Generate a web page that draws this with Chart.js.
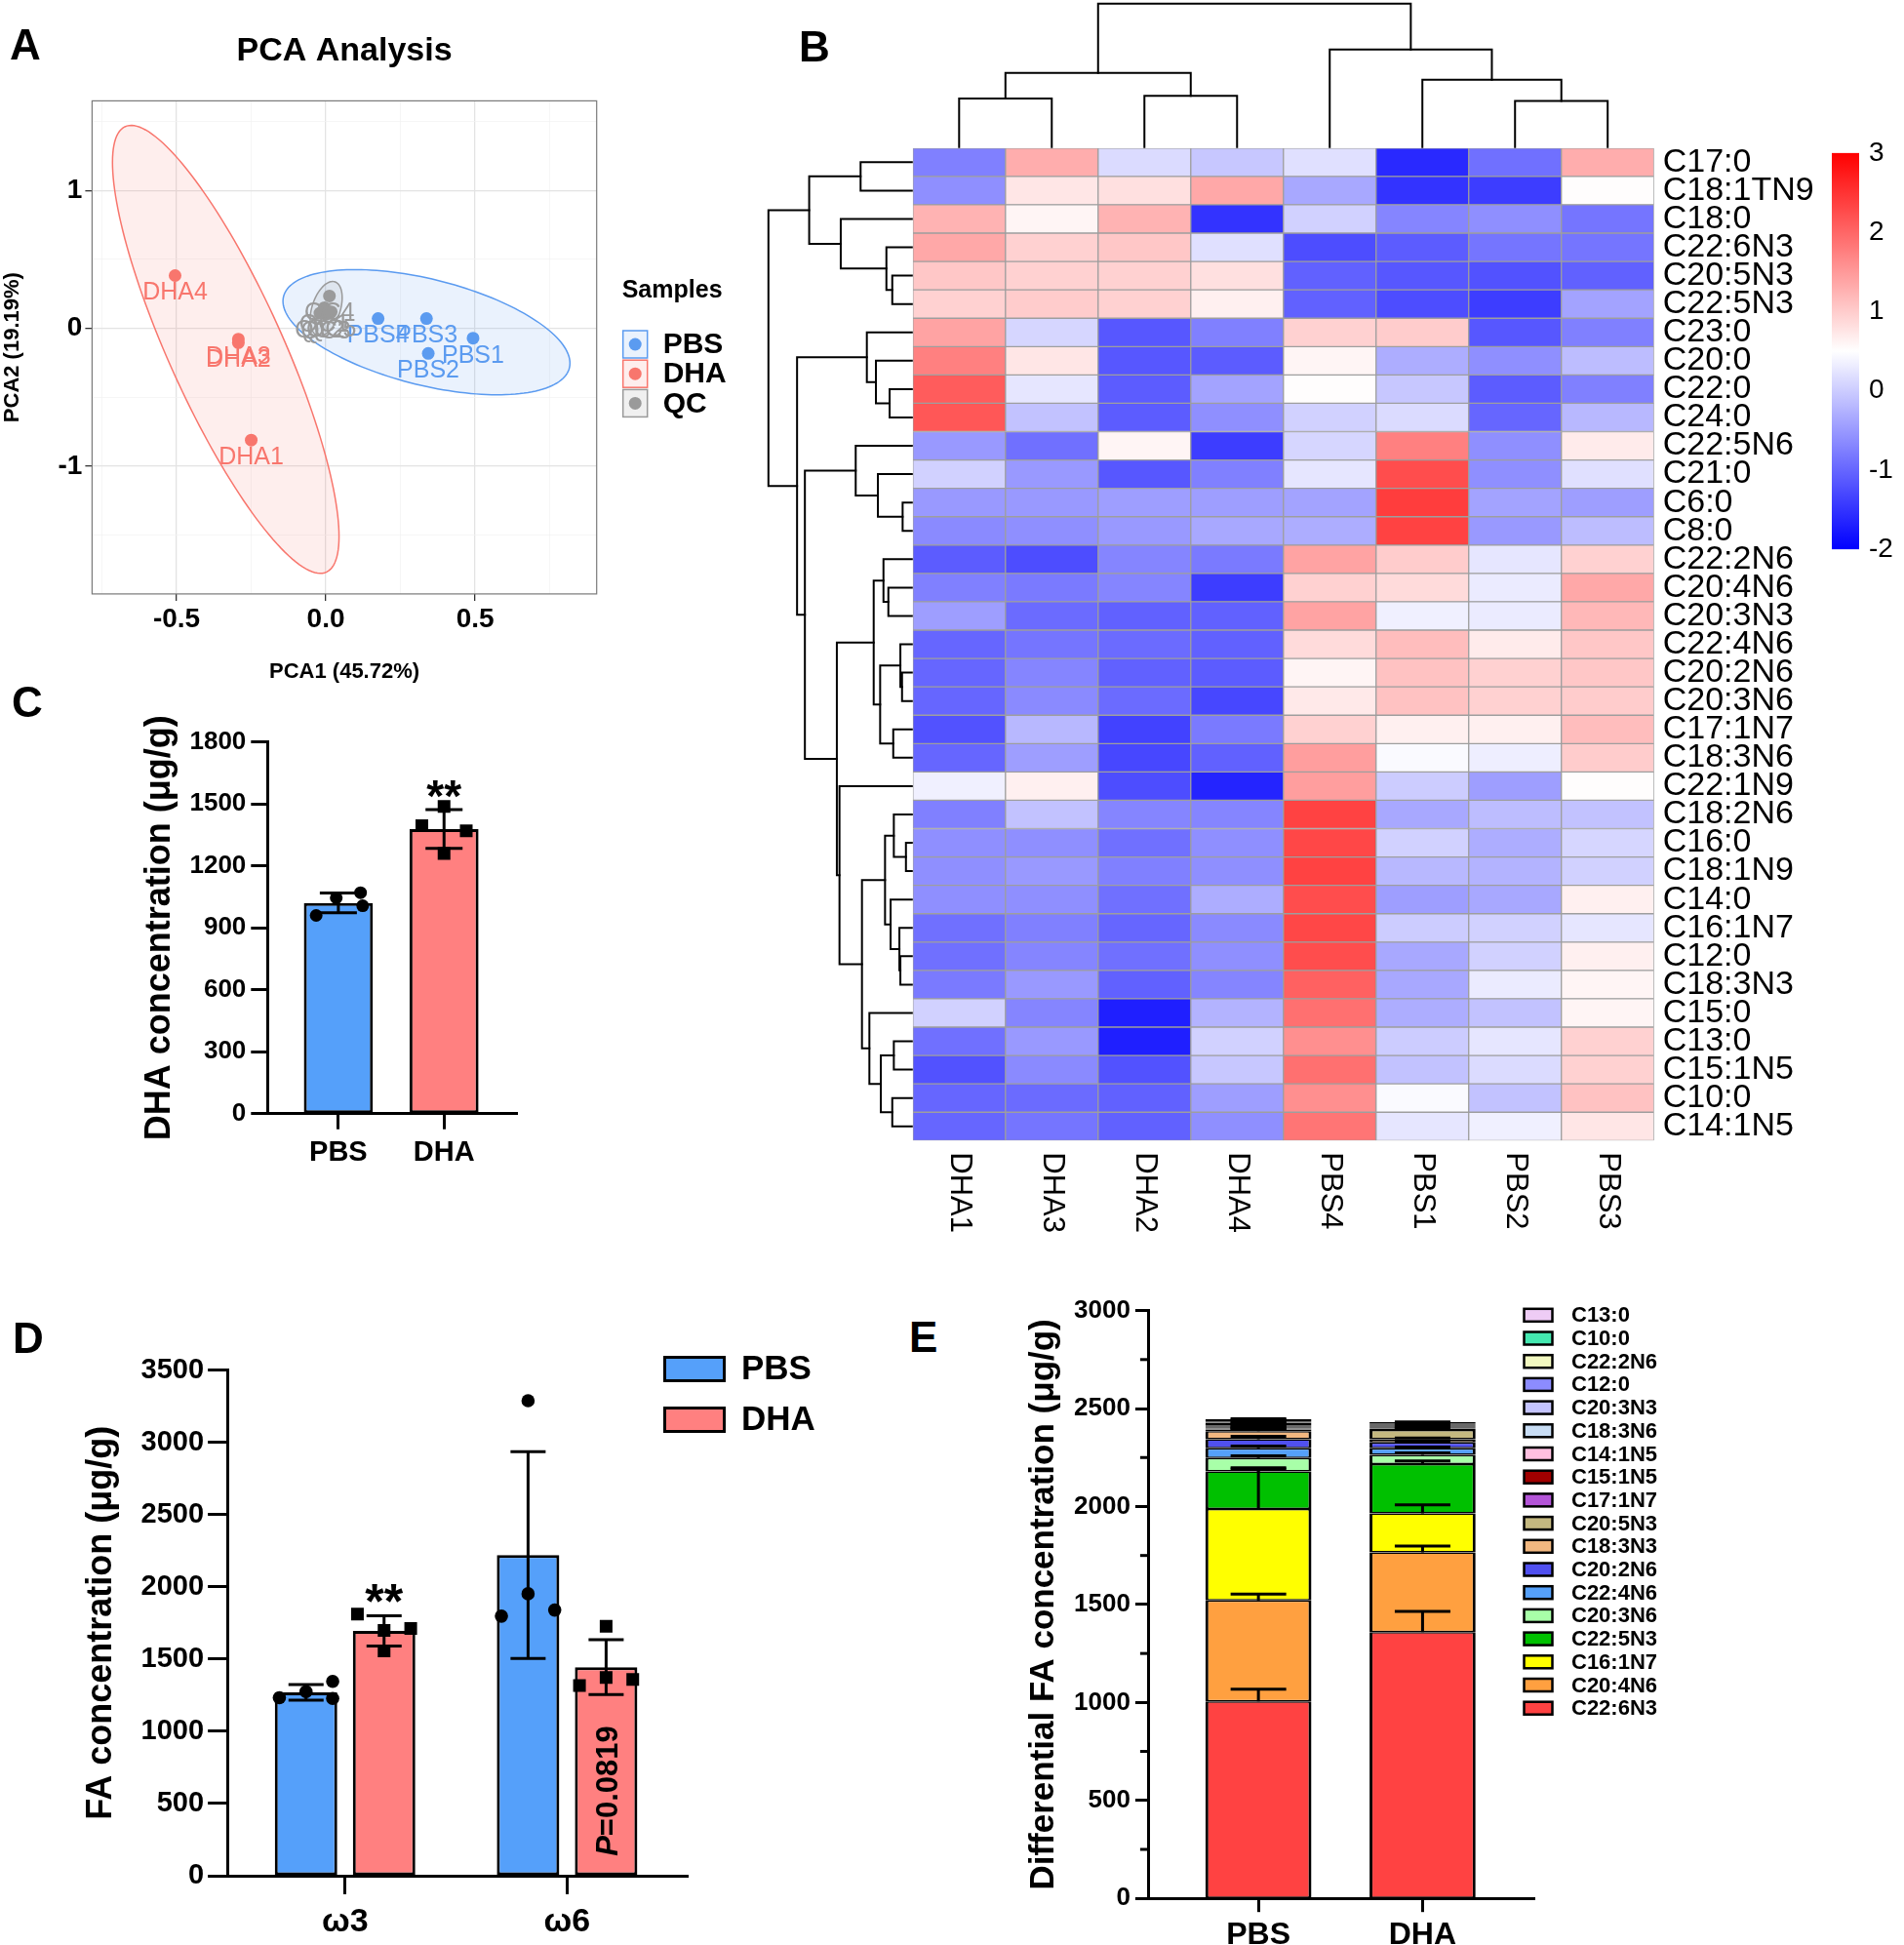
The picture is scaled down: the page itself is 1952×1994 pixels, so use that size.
<!DOCTYPE html>
<html><head><meta charset="utf-8"><title>Fatty acid figure</title>
<script src="https://cdn.jsdelivr.net/npm/chart.js@4.4.1/dist/chart.umd.min.js"></script>
<style>
html,body{margin:0;padding:0;background:#fff}
body{position:relative;width:1952px;height:1994px;overflow:hidden;font-family:'Liberation Sans',Arial,Helvetica,sans-serif}
canvas{position:absolute;display:block}
.pl{position:absolute;font-weight:bold;font-size:44px;line-height:1;color:#000}
</style></head>
<body>
<canvas id="chartA" width="780" height="720" style="left:0;top:0;width:780px;height:720px"></canvas>
<canvas id="chartB" width="1090" height="1290" style="left:770px;top:0;width:1090px;height:1290px"></canvas>
<canvas id="chartBar" width="92" height="460" style="left:1860px;top:130px;width:92px;height:460px"></canvas>
<canvas id="chartC" width="560" height="560" style="left:0;top:700px;width:560px;height:560px"></canvas>
<canvas id="chartD" width="860" height="654" style="left:0;top:1340px;width:860px;height:654px"></canvas>
<canvas id="chartE" width="952" height="674" style="left:1000px;top:1320px;width:952px;height:674px"></canvas>
<div class="pl" style="left:10px;top:24px">A</div>
<div class="pl" style="left:819px;top:26px">B</div>
<div class="pl" style="left:12px;top:698px">C</div>
<div class="pl" style="left:13px;top:1350px">D</div>
<div class="pl" style="left:932px;top:1349px">E</div>
<script>
const FONT = "'Liberation Sans', Arial, Helvetica, sans-serif";
Chart.defaults.font.family = FONT;
Chart.defaults.color = '#000';
Chart.defaults.animation = false;
Chart.defaults.plugins.legend.display = false;
Chart.defaults.plugins.tooltip.enabled = false;

/* ================= DATA ================= */
/* Panel A: PCA scores */
const pbsNames = ['PBS4', 'PBS3', 'PBS1', 'PBS2'];
const pbsPC1 = [0.175, 0.337, 0.493, 0.343];
const pbsPC2 = [0.071, 0.071, -0.071, -0.182];
const dhaNames = ['DHA4', 'DHA3', 'DHA2', 'DHA1'];
const dhaPC1 = [-0.505, -0.293, -0.293, -0.250];
const dhaPC2 = [0.383, -0.078, -0.104, -0.810];
const qcNames = ['QC1', 'QC2', 'QC3', 'QC4', 'QC5'];
const qcPC1 = [-0.005, -0.020, 0.000, 0.012, 0.018];
const qcPC2 = [0.150, 0.110, 0.100, 0.235, 0.120];
const pcaXTicks = [-0.5, 0.0, 0.5];
const pcaYTicks = [-1, 0, 1];

/* Panel B: heatmap z-scores, one array per sample column (rows in heatRows order) */
const heatSamples = ['DHA1', 'DHA3', 'DHA2', 'DHA4', 'PBS4', 'PBS1', 'PBS2', 'PBS3'];
const heatRows = ['C17:0','C18:1TN9','C18:0','C22:6N3','C20:5N3','C22:5N3','C23:0','C20:0','C22:0','C24:0','C22:5N6','C21:0','C6:0','C8:0','C22:2N6','C20:4N6','C20:3N3','C22:4N6','C20:2N6','C20:3N6','C17:1N7','C18:3N6','C22:1N9','C18:2N6','C16:0','C18:1N9','C14:0','C16:1N7','C12:0','C18:3N3','C15:0','C13:0','C15:1N5','C10:0','C14:1N5'];
const zDHA1 = [-0.75,-0.60,1.25,1.35,1.05,0.95,1.40,1.75,2.10,2.15,-0.50,0.05,-0.50,-0.65,-1.10,-0.75,-0.45,-1.00,-1.00,-1.00,-1.20,-1.00,0.35,-0.75,-0.60,-0.60,-0.60,-0.90,-0.90,-0.80,0.05,-0.90,-1.20,-1.00,-1.00];
const zDHA3 = [1.30,0.75,0.60,0.95,0.95,1.00,0.10,0.75,0.25,-0.10,-0.90,-0.50,-0.50,-0.60,-1.25,-0.80,-0.95,-0.85,-0.70,-0.65,-0.20,-0.45,0.65,-0.10,-0.60,-0.50,-0.60,-0.75,-0.70,-0.50,-0.70,-0.50,-0.65,-0.95,-0.85];
const zDHA2 = [0.15,0.80,1.25,1.05,0.95,0.95,-1.15,-1.15,-1.10,-1.10,0.60,-1.15,-0.45,-0.50,-0.70,-0.70,-1.05,-0.95,-1.05,-0.95,-1.35,-1.30,-1.25,-0.70,-0.90,-0.75,-0.90,-1.00,-0.90,-1.05,-1.70,-1.70,-1.20,-1.05,-1.05];
const zDHA4 = [-0.05,1.35,-1.50,0.20,0.80,0.65,-0.75,-1.10,-0.40,-0.60,-1.40,-0.75,-0.45,-0.35,-0.80,-1.40,-1.05,-1.05,-1.10,-1.30,-0.80,-1.05,-1.65,-0.70,-0.60,-0.60,-0.30,-0.65,-0.60,-0.70,-0.25,0.05,-0.05,-0.45,-0.60];
const zPBS4 = [0.20,-0.35,0.05,-1.25,-1.05,-1.05,0.95,0.60,0.52,0.05,0.10,0.25,-0.40,-0.30,1.40,0.95,1.40,0.85,0.60,0.72,0.95,1.45,1.45,2.35,2.30,2.35,2.25,2.30,2.25,2.05,1.90,1.60,1.90,1.60,1.85];
const zPBS1 = [-1.60,-1.50,-0.70,-1.10,-1.15,-1.25,1.00,-0.30,-0.05,0.15,1.75,2.25,2.40,2.35,1.00,0.85,0.35,1.15,1.10,1.10,0.65,0.45,0.00,-0.35,0.05,-0.20,-0.45,0.00,-0.35,-0.35,-0.30,0.00,-0.10,0.45,0.25];
const zPBS2 = [-0.90,-1.40,-0.60,-0.85,-1.20,-1.40,-1.15,-0.60,-1.10,-1.00,-0.60,-0.60,-0.40,-0.50,0.25,0.30,0.30,0.70,0.95,0.95,0.65,0.33,-0.45,-0.15,-0.30,-0.25,-0.35,0.05,0.05,0.30,-0.10,0.25,0.15,-0.10,0.35];
const zPBS3 = [1.30,0.52,-0.85,-0.85,-1.05,-0.40,-0.75,-0.15,-0.75,-0.20,0.70,0.20,-0.45,-0.15,0.95,1.35,1.20,1.05,1.05,1.00,1.15,1.00,0.52,-0.10,0.10,0.05,0.65,0.25,0.65,0.60,0.60,0.95,0.95,1.10,0.75];
const heatScaleTicks = [3, 2, 1, 0, -1, -2];
/* hierarchical clustering (hclust-style merge lists: negative = leaf, positive = earlier merge) */
const colMerge = [[-1,-2],[-3,-4],[-7,-8],[1,2],[-6,3],[-5,5],[4,6]];
const colHeight = [49.8, 52.6, 47.3, 75.9, 68.9, 100, 146.9];
const rowMerge = [[-25,-26],[-13,-14],[-19,-20],[-18,3],[-29,-30],[-28,5],[-24,1],[-32,-33],[-21,-22],[-5,-6],
  [-34,-35],[-27,6],[-9,-10],[-16,-17],[-4,10],[7,12],[-15,14],[8,11],[4,9],[-12,2],
  [-8,13],[17,19],[-31,18],[-7,21],[16,23],[-1,-2],[-11,20],[-3,15],[-23,25],[22,29],
  [26,28],[27,30],[24,32],[31,33]];
const rowHeight = [6,9.4,10,11.7,11.7,12.7,18.4,18.4,19,20,20,21.7,22.7,24,26,27.4,29,31.7,32.4,34.7,
  36.7,39,43.4,46,51,52.4,57.4,72.7,74,76.7,105,109.4,117.4,146.7];

/* Panel C: DHA concentration (µg/g), individual animals */
const cCats = ['PBS', 'DHA'];
const cPBS = [960, 1045, 1070, 1007];
const cDHA = [1395, 1488, 1370, 1260];
const cYTicks = [0, 300, 600, 900, 1200, 1500, 1800];
const cStars = ['', '**'];

/* Panel D: omega-3 / omega-6 FA concentration */
const dCats = ['ω3', 'ω6'];
const dPBSw3 = [1232, 1274, 1345, 1227];
const dPBSw6 = [3288, 1952, 1797, 1839];
const dDHAw3 = [1811, 1698, 1712, 1556];
const dDHAw6 = [1726, 1316, 1373, 1359];
const dYTicks = [0, 500, 1000, 1500, 2000, 2500, 3000, 3500];
const dStarsDHA = ['**', ''];
const dPLabel = ['P', '=0.0819'];

/* Panel E: stacked differential FA (bottom to top) */
const eCats = ['PBS', 'DHA'];
const eSeries = ['C22:6N3','C20:4N6','C16:1N7','C22:5N3','C20:3N6','C22:4N6','C20:2N6','C18:3N3','C20:5N3','C17:1N7','C15:1N5','C14:1N5','C18:3N6','C20:3N3','C12:0','C22:2N6','C10:0','C13:0'];
const ePBS   = [1005, 516, 466, 192, 68, 50, 46, 42, 8, 5, 4, 5, 7, 6, 8, 6, 7, 5];
const eDHA   = [1359, 407, 199, 252, 47, 33, 30, 16, 48, 4, 3, 4, 5, 5, 5, 5, 4, 4];
const ePBSsd = [63, 32, 211, 13, 12, 12, 15, 12, 3, 2, 2, 2, 3, 3, 3, 2, 3, 2];
const eDHAsd = [106, 32, 44, 16, 10, 6, 6, 6, 8, 2, 2, 2, 2, 2, 2, 2, 2, 2];
const eYTicks = [0, 500, 1000, 1500, 2000, 2500, 3000];

/* ================= STYLE ================= */
const COL_PBS = '#55A0FA', COL_DHA = '#FF8080';
const PCA_COL = {PBS:'#5B9BF0', DHA:'#F8766D', QC:'#9A9A9A'};
const PCA_FILL = {PBS:'rgba(91,155,240,0.13)', DHA:'rgba(248,118,109,0.12)', QC:'rgba(154,154,154,0.15)'};
const PCA_ELLIPSE_R = {PBS:3.7, DHA:3.3, QC:3.6};
const E_COLORS = ['#FF4242','#FFA040','#FFFF00','#00C000','#A8FFA8','#55A0FA','#5050F0','#F2B880','#C4B880','#B455D8','#A00000','#FFC0E0','#C8DDF5','#C4C4FF','#8C8CFF','#F2F8C0','#44E8B0','#EECCF5'];
const C_JIT = [[-0.21,-0.02,0.21,0.23],[-0.21,0,0.21,0]];
const D_JIT = {PBS:[[-0.12,0,0.12,0.12],[0,0,-0.12,0.12]], DHA:[[-0.12,0,0.12,0],[0,-0.12,0,0.12]]};
const D_CATPCT = 0.703, D_BARPCT = 0.8;

/* ================= HELPERS ================= */
const mean = a => a.reduce((s, v) => s + v, 0) / a.length;
const sdev = a => { const m = mean(a); return Math.sqrt(a.reduce((s, v) => s + (v - m) * (v - m), 0) / (a.length - 1)); };
const near = (arr, v) => arr.some(t => Math.abs(t - v) < 1e-6);
function heatColor(v) {
  const lo = Math.min(...heatScaleTicks), hi = Math.max(...heatScaleTicks), mid = (lo + hi) / 2;
  v = Math.max(lo, Math.min(hi, v));
  let r, g, b;
  if (v < mid) { const t = (v - lo) / (mid - lo); r = g = Math.round(255 * t); b = 255; }
  else { const t = (v - mid) / (hi - mid); r = 255; g = b = Math.round(255 * (1 - t)); }
  return `rgb(${r},${g},${b})`;
}
function ellipse(xs, ys, r, n) {
  const mx = mean(xs), my = mean(ys), N = xs.length;
  let sxx = 0, syy = 0, sxy = 0;
  for (let i = 0; i < N; i++) { const dx = xs[i] - mx, dy = ys[i] - my; sxx += dx * dx; syy += dy * dy; sxy += dx * dy; }
  sxx /= N - 1; syy /= N - 1; sxy /= N - 1;
  const a = Math.sqrt(sxx), b = sxy / a, c = Math.sqrt(Math.max(syy - b * b, 0));
  const pts = [];
  for (let k = 0; k <= n; k++) { const t = 2 * Math.PI * k / n; pts.push([mx + r * a * Math.cos(t), my + r * (b * Math.cos(t) + c * Math.sin(t))]); }
  return pts;
}
function drawTree(ctx, merge, height, leaf, map) {
  const pos = [], hh = [];
  const node = k => k < 0 ? [leaf(-k - 1), 0] : [pos[k - 1], hh[k - 1]];
  merge.forEach((m, i) => {
    const [pa, ha] = node(m[0]), [pb, hb] = node(m[1]), h = height[i];
    pos[i] = (pa + pb) / 2; hh[i] = h;
    ctx.beginPath();
    let q = map(pa, ha); ctx.moveTo(q[0], q[1]);
    q = map(pa, h); ctx.lineTo(q[0], q[1]);
    q = map(pb, h); ctx.lineTo(q[0], q[1]);
    q = map(pb, hb); ctx.lineTo(q[0], q[1]);
    ctx.stroke();
  });
}

/* ================= PANEL A ================= */
const pcaSets = [
  {group:'PBS', names:pbsNames, xs:pbsPC1, ys:pbsPC2},
  {group:'DHA', names:dhaNames, xs:dhaPC1, ys:dhaPC2},
  {group:'QC', names:qcNames, xs:qcPC1, ys:qcPC2}
];
const pcaPlugin = {
  id: 'pcaDecor',
  beforeDatasetsDraw(chart) {
    const {ctx, scales: {x, y}} = chart;
    ctx.save();
    pcaSets.forEach(s => {
      const pts = ellipse(s.xs, s.ys, PCA_ELLIPSE_R[s.group], 160);
      ctx.beginPath();
      pts.forEach((p, i) => { const px = x.getPixelForValue(p[0]), py = y.getPixelForValue(p[1]); i ? ctx.lineTo(px, py) : ctx.moveTo(px, py); });
      ctx.closePath();
      ctx.fillStyle = PCA_FILL[s.group]; ctx.fill();
      ctx.strokeStyle = PCA_COL[s.group]; ctx.lineWidth = 1.5; ctx.stroke();
    });
    ctx.restore();
  },
  afterDatasetsDraw(chart) {
    const {ctx, chartArea: a, scales: {x, y}} = chart;
    ctx.save();
    ctx.font = `25px ${FONT}`; ctx.textAlign = 'center'; ctx.textBaseline = 'middle';
    pcaSets.forEach(s => {
      ctx.fillStyle = PCA_COL[s.group];
      s.names.forEach((n, i) => ctx.fillText(n, x.getPixelForValue(s.xs[i]), y.getPixelForValue(s.ys[i]) + 18));
    });
    ctx.strokeStyle = '#7a7a7a'; ctx.lineWidth = 1.2;
    ctx.strokeRect(a.left, a.top, a.right - a.left, a.bottom - a.top);
    // legend
    const lx = a.right + 27;
    ctx.textAlign = 'left'; ctx.fillStyle = '#000';
    ctx.font = `bold 25px ${FONT}`; ctx.fillText('Samples', lx - 1, 298);
    ctx.font = `bold 30px ${FONT}`;
    pcaSets.forEach((s, i) => {
      const cy = 353 + i * 30.2;
      ctx.fillStyle = PCA_FILL[s.group]; ctx.fillRect(lx, cy - 14, 25, 28);
      ctx.strokeStyle = PCA_COL[s.group]; ctx.lineWidth = 1.5; ctx.strokeRect(lx, cy - 14, 25, 28);
      ctx.beginPath(); ctx.arc(lx + 12.5, cy, 6.5, 0, 2 * Math.PI); ctx.fillStyle = PCA_COL[s.group]; ctx.fill();
      ctx.fillStyle = '#000'; ctx.fillText(s.group, lx + 41, cy + 1);
    });
    ctx.restore();
  }
};
const gridMajor = (arr) => (c) => (c.tick && near(arr, c.tick.value)) ? '#E3E3E3' : '#F2F2F2';
const gridW = (arr) => (c) => (c.tick && near(arr, c.tick.value)) ? 1.3 : 0.7;
const tickCol = (arr) => (c) => (c.tick && near(arr, c.tick.value)) ? '#333' : 'rgba(0,0,0,0)';
const pcaMajorX = [-0.5, 0, 0.5], pcaMajorY = [-1, 0, 1];
new Chart(document.getElementById('chartA'), {
  type: 'scatter',
  data: { datasets: pcaSets.map(s => ({
    label: s.group,
    data: s.xs.map((v, i) => ({x: v, y: s.ys[i]})),
    pointRadius: 6.5, pointBackgroundColor: PCA_COL[s.group], pointBorderWidth: 0
  })) },
  options: {
    responsive: false, devicePixelRatio: 1,
    layout: {padding: {left: 0, right: 168.3, top: 0, bottom: 0}},
    plugins: { title: {display: true, text: 'PCA Analysis', fullSize: false, color: '#000',
      font: {size: 34, weight: 'bold'}, padding: {top: 32.6, bottom: 30}} },
    scales: {
      x: { type: 'linear', min: -0.783, max: 0.907,
        afterFit: s => { s.height = 111.1; },
        border: {display: false},
        grid: {color: gridMajor(pcaMajorX), lineWidth: gridW(pcaMajorX), tickColor: tickCol(pcaMajorX), tickLength: 7, tickWidth: 1.3},
        ticks: {stepSize: 0.25, includeBounds: false, autoSkip: false, maxRotation: 0, padding: 3, color: '#000',
          font: {size: 28, weight: 'bold'}, callback: v => near(pcaXTicks, v) ? v.toFixed(1) : ''},
        title: {display: true, text: 'PCA1 (45.72%)', color: '#000', font: {size: 22, weight: 'bold'}, padding: {top: 0, bottom: 18}} },
      y: { type: 'linear', min: -1.926, max: 1.65,
        afterFit: s => { s.width = 94.4; },
        border: {display: false},
        grid: {color: gridMajor(pcaMajorY), lineWidth: gridW(pcaMajorY), tickColor: tickCol(pcaMajorY), tickLength: 7, tickWidth: 1.3},
        ticks: {stepSize: 0.5, includeBounds: false, autoSkip: false, padding: 3, color: '#000',
          font: {size: 28, weight: 'bold'}, callback: v => near(pcaYTicks, v) ? String(Math.round(v)) : ''},
        title: {display: true, text: 'PCA2 (19.19%)', color: '#000', font: {size: 22, weight: 'bold'}, padding: {top: 0, bottom: 0}} }
    }
  },
  plugins: [pcaPlugin]
});

/* ================= PANEL B ================= */
const zCols = [zDHA1, zDHA3, zDHA2, zDHA4, zPBS4, zPBS1, zPBS2, zPBS3];
const DENDRO_PX = 147;
const heatPlugin = {
  id: 'heatDecor',
  afterDraw(chart) {
    const {ctx, chartArea: a, scales: {x, y}} = chart;
    ctx.save();
    ctx.strokeStyle = '#000'; ctx.lineWidth = 2; ctx.lineCap = 'square';
    const cMax = Math.max(...colHeight), rMax = Math.max(...rowHeight);
    drawTree(ctx, colMerge, colHeight, i => x.getPixelForValue(i + 0.5), (p, h) => [p, a.top - 1 - h * DENDRO_PX / cMax]);
    drawTree(ctx, rowMerge, rowHeight, i => y.getPixelForValue(i), (p, h) => [a.left - 1 - h * DENDRO_PX / rMax, p]);
    ctx.fillStyle = '#000'; ctx.font = `31px ${FONT}`; ctx.textAlign = 'left'; ctx.textBaseline = 'middle';
    heatSamples.forEach((s, i) => {
      ctx.save();
      ctx.translate(x.getPixelForValue(i + 0.5), a.bottom + 12);
      ctx.rotate(Math.PI / 2);
      ctx.fillText(s, 0, 0);
      ctx.restore();
    });
    ctx.restore();
  }
};
new Chart(document.getElementById('chartB'), {
  type: 'bar',
  data: { labels: heatRows, datasets: heatSamples.map((s, j) => ({
    label: s, data: heatRows.map(() => 1),
    backgroundColor: zCols[j].map(heatColor),
    borderColor: '#9E9E9E', borderWidth: 1, borderSkipped: false,
    barPercentage: 1, categoryPercentage: 1
  })) },
  options: {
    indexAxis: 'y', responsive: false, devicePixelRatio: 1,
    layout: {padding: {left: 165.8, top: 151.8, bottom: 120.7, right: 0}},
    scales: {
      x: {type: 'linear', stacked: true, min: 0, max: heatSamples.length, display: false},
      y: {type: 'category', stacked: true, position: 'right', offset: true,
        grid: {display: false, drawTicks: false}, border: {display: false},
        ticks: {autoSkip: false, padding: 9, color: '#000', font: {size: 34}},
        afterFit: s => { s.width = 164.3; } }
    }
  },
  plugins: [heatPlugin]
});
new Chart(document.getElementById('chartBar'), {
  type: 'bar',
  data: { labels: ['z'], datasets: [{
    data: [[Math.min(...heatScaleTicks), Math.max(...heatScaleTicks)]],
    backgroundColor: c => {
      const ch = c.chart, a = ch.chartArea;
      if (!a) return '#fff';
      const g = ch.ctx.createLinearGradient(0, a.bottom, 0, a.top);
      const lo = Math.min(...heatScaleTicks), hi = Math.max(...heatScaleTicks);
      for (let k = 0; k <= 50; k++) g.addColorStop(k / 50, heatColor(lo + (hi - lo) * k / 50));
      return g;
    },
    borderWidth: 0, barPercentage: 1, categoryPercentage: 1
  }] },
  options: {
    responsive: false, devicePixelRatio: 1,
    layout: {padding: {left: 18, top: 23, bottom: 18, right: 0}},
    scales: {
      x: {display: false},
      y: {position: 'right', min: Math.min(...heatScaleTicks), max: Math.max(...heatScaleTicks),
        afterBuildTicks: s => { s.ticks = heatScaleTicks.map(v => ({value: v})); },
        ticks: {padding: 10, color: '#000', font: {size: 28}, callback: v => String(v)},
        grid: {display: false, drawTicks: false}, border: {display: false},
        afterFit: s => { s.width = 46; } }
    }
  }
});

/* ================= shared bar helpers (C, D) ================= */
const errPlugin = {
  id: 'errBars',
  afterDatasetDraw(chart, args) {
    const ds = chart.data.datasets[args.index];
    if (!ds.errSd) return;
    const {ctx} = chart, y = chart.scales.y;
    ctx.save();
    ctx.strokeStyle = '#000'; ctx.lineWidth = 3; ctx.lineCap = 'butt';
    args.meta.data.forEach((el, j) => {
      const m = ds.data[j].y, s = ds.errSd[j], w = ds.errCap / 2;
      const yt = y.getPixelForValue(m + s), yb = y.getPixelForValue(m - s);
      ctx.beginPath();
      ctx.moveTo(el.x, yt); ctx.lineTo(el.x, yb);
      ctx.moveTo(el.x - w, yt); ctx.lineTo(el.x + w, yt);
      ctx.moveTo(el.x - w, yb); ctx.lineTo(el.x + w, yb);
      ctx.stroke();
      if (ds.stars && ds.stars[j]) {
        ctx.fillStyle = '#000'; ctx.font = `bold ${ds.starSize}px ${FONT}`;
        ctx.textAlign = 'center'; ctx.textBaseline = 'alphabetic';
        ctx.fillText(ds.stars[j], el.x, yt + 2);
      }
    });
    ctx.restore();
  }
};
function gpAxisX(cats, min, max, height, tickLen, fontSize, pad) {
  return { type: 'linear', min, max, offset: false, z: 1,
    afterBuildTicks: s => { s.ticks = cats.map((_, i) => ({value: i + 1})); },
    afterFit: s => { s.height = height; },
    grid: {display: true, drawOnChartArea: false, offset: false, tickLength: tickLen, tickWidth: 3, tickColor: '#000', color: '#000'},
    border: {display: true, color: '#000', width: 3},
    ticks: {autoSkip: false, maxRotation: 0, minRotation: 0, padding: pad, color: '#000', font: {size: fontSize, weight: 'bold'}, callback: (v, i) => cats[i]} };
}
function gpAxisY(ticksArr, width, tickLen, fontSize, pad, title, titleSize, titlePad) {
  return { type: 'linear', min: Math.min(...ticksArr), max: Math.max(...ticksArr), z: 1,
    afterBuildTicks: s => { s.ticks = ticksArr.map(v => ({value: v})); },
    afterFit: s => { s.width = width; },
    grid: {display: true, drawOnChartArea: false, tickLength: tickLen, tickWidth: 3, tickColor: '#000', color: '#000'},
    border: {display: true, color: '#000', width: 3},
    ticks: {padding: pad, color: '#000', font: {size: fontSize, weight: 'bold'}, callback: v => String(v)},
    title: {display: true, text: title, color: '#000', font: {size: titleSize, weight: 'bold'}, padding: {top: titlePad, bottom: 0}} };
}

/* ================= PANEL C ================= */
const cGroups = [cPBS, cDHA];
new Chart(document.getElementById('chartC'), {
  type: 'bar',
  data: { datasets: [
    { type: 'bar', data: cGroups.map((g, i) => ({x: i + 1, y: mean(g)})),
      backgroundColor: [COL_PBS, COL_DHA], borderColor: '#000', borderWidth: 3, borderSkipped: false,
      barPercentage: 0.653, categoryPercentage: 1, order: 2,
      errSd: cGroups.map(sdev), errCap: 38, stars: cStars, starSize: 46 },
    { type: 'scatter', data: cPBS.map((v, k) => ({x: 1 + C_JIT[0][k], y: v})),
      pointStyle: 'circle', pointRadius: 6.5, pointBackgroundColor: '#000', pointBorderWidth: 0, order: 0 },
    { type: 'scatter', data: cDHA.map((v, k) => ({x: 2 + C_JIT[1][k], y: v})),
      pointStyle: 'rect', pointRadius: 9.2, pointBackgroundColor: '#000', pointBorderWidth: 0, order: 0 }
  ] },
  options: {
    responsive: false, devicePixelRatio: 1,
    layout: {padding: {left: 0, right: 30, top: 60.7, bottom: 0}},
    scales: {
      x: gpAxisX(cCats, 0.33, 2.69, 118.3, 16, 29, 7),
      y: gpAxisY(cYTicks, 274.3, 17, 26, 5, 'DHA concentration (μg/g)', 36, 142.4)
    }
  },
  plugins: [errPlugin]
});

/* ================= PANEL D ================= */
const dPBS = [dPBSw3, dPBSw6], dDHA = [dDHAw3, dDHAw6];
const dOff = D_CATPCT / 4;
const dPlugin = {
  id: 'dDecor',
  afterDraw(chart) {
    const {ctx, scales: {y}} = chart;
    ctx.save();
    // legend
    const items = [{t: 'PBS', c: COL_PBS}, {t: 'DHA', c: COL_DHA}];
    items.forEach((it, i) => {
      const top = 50 + i * 52;
      ctx.fillStyle = it.c; ctx.fillRect(681.5, top + 1.5, 61, 24);
      ctx.strokeStyle = '#000'; ctx.lineWidth = 3; ctx.strokeRect(681.5, top + 1.5, 61, 24);
      ctx.fillStyle = '#000'; ctx.font = `bold 35px ${FONT}`; ctx.textAlign = 'left'; ctx.textBaseline = 'middle';
      ctx.fillText(it.t, 760, top + 14.5);
    });
    // P value inside DHA omega-6 bar
    const el = chart.getDatasetMeta(1).data[1];
    ctx.translate(el.x + 3, y.getPixelForValue(587));
    ctx.rotate(-Math.PI / 2);
    ctx.textBaseline = 'middle'; ctx.textAlign = 'left';
    ctx.font = `italic bold 31px ${FONT}`; const wP = ctx.measureText(dPLabel[0]).width;
    ctx.font = `bold 31px ${FONT}`; const wR = ctx.measureText(dPLabel[1]).width;
    const x0 = -(wP + wR) / 2;
    ctx.font = `italic bold 31px ${FONT}`; ctx.fillText(dPLabel[0], x0, 0);
    ctx.font = `bold 31px ${FONT}`; ctx.fillText(dPLabel[1], x0 + wP, 0);
    ctx.restore();
  }
};
new Chart(document.getElementById('chartD'), {
  type: 'bar',
  data: { datasets: [
    { type: 'bar', label: 'PBS', data: dPBS.map((g, i) => ({x: i + 1, y: mean(g)})),
      backgroundColor: COL_PBS, borderColor: '#000', borderWidth: 3, borderSkipped: false,
      barPercentage: D_BARPCT, categoryPercentage: D_CATPCT, order: 2, errSd: dPBS.map(sdev), errCap: 36 },
    { type: 'bar', label: 'DHA', data: dDHA.map((g, i) => ({x: i + 1, y: mean(g)})),
      backgroundColor: COL_DHA, borderColor: '#000', borderWidth: 3, borderSkipped: false,
      barPercentage: D_BARPCT, categoryPercentage: D_CATPCT, order: 2, errSd: dDHA.map(sdev), errCap: 36,
      stars: dStarsDHA, starSize: 50 },
    { type: 'scatter', data: dPBS.flatMap((g, i) => g.map((v, k) => ({x: i + 1 - dOff + D_JIT.PBS[i][k], y: v}))),
      pointStyle: 'circle', pointRadius: 6.8, pointBackgroundColor: '#000', pointBorderWidth: 0, order: 0 },
    { type: 'scatter', data: dDHA.flatMap((g, i) => g.map((v, k) => ({x: i + 1 + dOff + D_JIT.DHA[i][k], y: v}))),
      pointStyle: 'rect', pointRadius: 9.2, pointBackgroundColor: '#000', pointBorderWidth: 0, order: 0 }
  ] },
  options: {
    responsive: false, devicePixelRatio: 1,
    layout: {padding: {left: 0, right: 155, top: 64.6, bottom: 0}},
    scales: {
      x: gpAxisX(dCats, 0.47, 2.543, 71, 19, 34, 8),
      y: gpAxisY(dYTicks, 233.1, 20, 29, 4, 'FA concentration (μg/g)', 36, 82.4)
    }
  },
  plugins: [errPlugin, dPlugin]
});

/* ================= PANEL E ================= */
const eVals = [ePBS, eDHA], eSds = [ePBSsd, eDHAsd];
const ePlugin = {
  id: 'eDecor',
  afterDatasetsDraw(chart) {
    const {ctx, scales: {y}, chartArea: a} = chart;
    ctx.save();
    ctx.strokeStyle = '#000'; ctx.lineWidth = 3;
    const cum = eCats.map(() => 0);
    chart.data.datasets.forEach((ds, i) => {
      const meta = chart.getDatasetMeta(i);
      ds.data.forEach((d, j) => {
        cum[j] += d.y;
        const el = meta.data[j], s = ds.errUp[j];
        const y0 = y.getPixelForValue(cum[j]), y1 = y.getPixelForValue(cum[j] + s);
        ctx.beginPath();
        ctx.moveTo(el.x, y0); ctx.lineTo(el.x, y1);
        ctx.moveTo(el.x - 28.5, y1); ctx.lineTo(el.x + 28.5, y1);
        ctx.stroke();
      });
    });
    ctx.restore();
  },
  afterDraw(chart) {
    const {ctx, scales: {y}, chartArea: a} = chart;
    ctx.save();
    // minor ticks
    ctx.strokeStyle = '#000'; ctx.lineWidth = 3;
    for (let k = 0; k < eYTicks.length - 1; k++) {
      const py = y.getPixelForValue((eYTicks[k] + eYTicks[k + 1]) / 2);
      ctx.beginPath(); ctx.moveTo(a.left - 9, py); ctx.lineTo(a.left, py); ctx.stroke();
    }
    // legend (top = last series)
    ctx.font = `bold 22px ${FONT}`; ctx.textAlign = 'left'; ctx.textBaseline = 'middle';
    const n = eSeries.length;
    for (let r = 0; r < n; r++) {
      const idx = n - 1 - r, cy = 28.3 + r * 23.7;
      ctx.fillStyle = E_COLORS[idx]; ctx.fillRect(562.5, cy - 6.5, 29, 13);
      ctx.strokeStyle = '#000'; ctx.lineWidth = 2.5; ctx.strokeRect(562.5, cy - 6.5, 29, 13);
      ctx.fillStyle = '#000'; ctx.fillText(eSeries[idx], 611, cy + 1);
    }
    ctx.restore();
  }
};
new Chart(document.getElementById('chartE'), {
  type: 'bar',
  data: { datasets: eSeries.map((name, i) => ({
    label: name,
    data: eVals.map((arr, j) => ({x: j + 1, y: arr[i]})),
    errUp: eSds.map(arr => arr[i]),
    backgroundColor: E_COLORS[i], borderColor: '#000',
    borderWidth: {left: 3, right: 3, top: 1.5, bottom: 1.5}, borderSkipped: false,
    barPercentage: 0.646, categoryPercentage: 1
  })) },
  options: {
    responsive: false, devicePixelRatio: 1,
    layout: {padding: {left: 0, right: 378.3, top: 23.6, bottom: 0}},
    scales: {
      x: Object.assign(gpAxisX(eCats, 0.333, 2.685, 47.8, 14, 32, 5), {stacked: true}),
      y: Object.assign(gpAxisY(eYTicks, 177.9, 14, 26, 5, 'Differential FA concentration (μg/g)', 35, 49), {stacked: true})
    }
  },
  plugins: [ePlugin]
});
</script>
</body></html>
